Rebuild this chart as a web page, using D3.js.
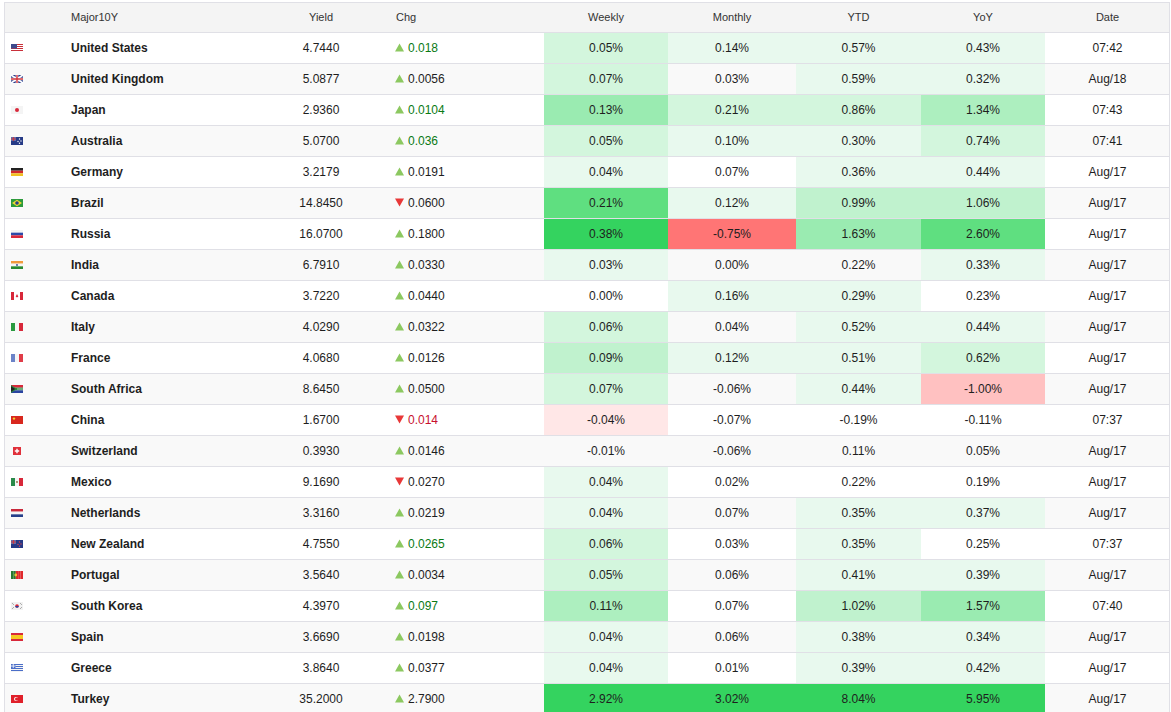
<!DOCTYPE html>
<html lang="en">
<head>
  <meta charset="utf-8">
  <title>Major 10Y bond yields</title>
  <style>
    body { margin: 0; background: #fff; }
    svg { display: block; font-family: "Liberation Sans", Arial, sans-serif; }
    .hdr { font-size: 11px; fill: #333; }
    .cell { font-size: 12px; fill: #1e1e1e; }
    .name { font-weight: bold; }
  </style>
</head>
<body>
  <script src="https://d3js.org/d3.v7.min.js"></script>
  <svg></svg>
  <script>

var countries = ['United States','United Kingdom','Japan','Australia','Germany','Brazil','Russia','India',
  'Canada','Italy','France','South Africa','China','Switzerland','Mexico','Netherlands','New Zealand',
  'Portugal','South Korea','Spain','Greece','Turkey'];
var codes = ['us','gb','jp','au','de','br','ru','in','ca','it','fr','za','cn','ch','mx','nl','nz','pt','kr','es','gr','tr'];
var yields = [4.7440,5.0877,2.9360,5.0700,3.2179,14.8450,16.0700,6.7910,3.7220,4.0290,4.0680,8.6450,
  1.6700,0.3930,9.1690,3.3160,4.7550,3.5640,4.3970,3.6690,3.8640,35.2000];
var chg = [0.018,0.0056,0.0104,0.036,0.0191,-0.0600,0.1800,0.0330,0.0440,0.0322,0.0126,0.0500,
  -0.014,0.0146,-0.0270,0.0219,0.0265,0.0034,0.097,0.0198,0.0377,2.7900];
var chgDigits = [3,4,4,3,4,4,4,4,4,4,4,4,3,4,4,4,4,4,3,4,4,4];
var weekly = [0.05,0.07,0.13,0.05,0.04,0.21,0.38,0.03,0.00,0.06,0.09,0.07,-0.04,-0.01,0.04,0.04,0.06,0.05,0.11,0.04,0.04,2.92];
var monthly = [0.14,0.03,0.21,0.10,0.07,0.12,-0.75,0.00,0.16,0.04,0.12,-0.06,-0.07,-0.06,0.02,0.07,0.03,0.06,0.07,0.06,0.01,3.02];
var ytd = [0.57,0.59,0.86,0.30,0.36,0.99,1.63,0.22,0.29,0.52,0.51,0.44,-0.19,0.11,0.22,0.35,0.35,0.41,1.02,0.38,0.39,8.04];
var yoy = [0.43,0.32,1.34,0.74,0.44,1.06,2.60,0.33,0.23,0.44,0.62,-1.00,-0.11,0.05,0.19,0.37,0.25,0.39,1.57,0.34,0.42,5.95];
var dates = ['07:42','Aug/18','07:43','07:41','Aug/17','Aug/17','Aug/17','Aug/17','Aug/17','Aug/17','Aug/17',
  'Aug/17','07:37','Aug/17','Aug/17','Aug/17','07:37','Aug/17','07:40','Aug/17','Aug/17','Aug/17'];

// heat colour steps, per column thresholds
var posThresholds = {
  weekly:  [0.025, 0.05, 0.08, 0.105, 0.12, 0.2, 0.3],
  monthly: [0.1, 0.2, 0.3, 0.4, 0.5, 0.8, 1.2],
  ytd:     [0.25, 0.75, 0.95, 1.2, 1.5, 2.5, 4],
  yoy:     [0.3, 0.6, 1.0, 1.25, 1.5, 2.5, 4]
};
var negThresholds = {
  weekly:  [0.03, 0.1, 0.2],
  monthly: [0.1, 0.4, 0.6],
  ytd:     [0.25, 0.75, 1.5],
  yoy:     [0.3, 0.8, 1.5]
};
var greens = [null,'#e8f9ee','#d3f6dd','#c0f2ce','#adefbf','#9aebb1','#5fdf80','#34d35f'];
var reds = [null,'#ffe7e7','#ffc1c1','#ff7575'];

var width = 1171, height = 712;
var left = 4, right = 1170, headTop = 2, headH = 31, rowH = 31;
var textDy = rowH / 2 + 3;

var svg = d3.select('svg').attr('width', width).attr('height', height);

// rows
var y = d3.scaleBand()
  .domain(d3.range(countries.length))
  .range([headTop + headH, headTop + headH + rowH * countries.length]);

// heat columns
var heatCols = [
  {key: 'weekly', label: 'Weekly', x0: 544, x1: 668, values: weekly},
  {key: 'monthly', label: 'Monthly', x0: 668, x1: 796, values: monthly},
  {key: 'ytd', label: 'YTD', x0: 796, x1: 921, values: ytd},
  {key: 'yoy', label: 'YoY', x0: 921, x1: 1045, values: yoy}
];
var dateCol = {x0: 1045, x1: right};
var nameX = 71, yieldX = 321, chgX = 395;

var colorFor = {};
heatCols.forEach(function(c) {
  var p = d3.scaleThreshold().domain(posThresholds[c.key]).range(greens);
  var n = d3.scaleThreshold().domain(negThresholds[c.key]).range(reds);
  colorFor[c.key] = function(v) { return v >= 0 ? p(v) : n(-v); };
});

// header
svg.append('rect')
  .attr('x', left).attr('y', headTop).attr('width', right - left).attr('height', headH)
  .attr('fill', '#f4f4f4');

var headers = [
  {t: 'Major10Y', x: nameX, a: 'start'},
  {t: 'Yield', x: yieldX, a: 'middle'},
  {t: 'Chg', x: chgX + 1, a: 'start'}
].concat(heatCols.map(function(c) { return {t: c.label, x: (c.x0 + c.x1) / 2, a: 'middle'}; }))
 .concat([{t: 'Date', x: (dateCol.x0 + dateCol.x1) / 2, a: 'middle'}]);

svg.selectAll('text.hdr').data(headers).enter().append('text')
  .attr('class', 'hdr')
  .attr('x', function(d) { return d.x; })
  .attr('y', headTop + 19)
  .attr('text-anchor', function(d) { return d.a; })
  .text(function(d) { return d.t; });

// row backgrounds (striped)
var rows = svg.selectAll('g.row').data(countries).enter().append('g')
  .attr('class', 'row')
  .attr('transform', function(d, i) { return 'translate(0,' + y(i) + ')'; });

rows.append('rect')
  .attr('x', left).attr('width', right - left).attr('height', rowH)
  .attr('fill', function(d, i) { return i % 2 ? '#f9f9f9' : '#fff'; });

// heat cells
heatCols.forEach(function(c) {
  rows.append('rect')
    .attr('x', c.x0).attr('width', c.x1 - c.x0).attr('height', rowH)
    .attr('fill', function(d, i) { return colorFor[c.key](c.values[i]) || 'none'; });
  rows.append('text')
    .attr('class', 'cell')
    .attr('x', (c.x0 + c.x1) / 2).attr('y', textDy)
    .attr('text-anchor', 'middle')
    .text(function(d, i) { return c.values[i].toFixed(2) + '%'; });
});

// flags
var flagW = 12, flagH = 8, flagX = 11;
function stripes(g, cols, vertical) {
  cols.forEach(function(col, k) {
    if (vertical) {
      g.append('rect').attr('x', k * flagW / cols.length).attr('width', flagW / cols.length).attr('height', flagH).attr('fill', col);
    } else {
      g.append('rect').attr('y', k * flagH / cols.length).attr('width', flagW).attr('height', flagH / cols.length).attr('fill', col);
    }
  });
}
function drawFlag(g, code) {
  switch (code) {
    case 'us':
      stripes(g, ['#c9303a','#fff','#c9303a','#fff','#c9303a','#fff','#c9303a','#fff']);
      g.append('rect').attr('width', 6).attr('height', 4.5).attr('fill', '#3c4a8c'); break;
    case 'gb':
      g.append('rect').attr('width', flagW).attr('height', flagH).attr('fill', '#2a3e8c');
      g.append('path').attr('d', 'M0,0L12,8M12,0L0,8').attr('stroke', '#fff').attr('stroke-width', 1.6);
      g.append('path').attr('d', 'M6,0V8M0,4H12').attr('stroke', '#fff').attr('stroke-width', 2.6);
      g.append('path').attr('d', 'M6,0V8M0,4H12').attr('stroke', '#d0343c').attr('stroke-width', 1.4); break;
    case 'jp':
      g.append('rect').attr('width', flagW).attr('height', flagH).attr('fill', '#f4f4f4');
      g.append('circle').attr('cx', 6).attr('cy', 4).attr('r', 2).attr('fill', '#d8283a'); break;
    case 'au': case 'nz':
      g.append('rect').attr('width', flagW).attr('height', flagH).attr('fill', '#263a86');
      g.append('rect').attr('width', 5).attr('height', 4).attr('fill', '#6470a8');
      g.append('path').attr('d', 'M2.5,0V4M0,2H5').attr('stroke', '#d0343c').attr('stroke-width', 0.9);
      [[8.5,2],[10,4],[8.5,6.3],[7,4.5]].forEach(function(p) {
        g.append('circle').attr('cx', p[0]).attr('cy', p[1]).attr('r', 0.7).attr('fill', code === 'au' ? '#fff' : '#e04050');
      }); break;
    case 'de': stripes(g, ['#222','#d0282c','#f0c020']); break;
    case 'br':
      g.append('rect').attr('width', flagW).attr('height', flagH).attr('fill', '#2c9a3c');
      g.append('path').attr('d', 'M6,0.8L11,4L6,7.2L1,4Z').attr('fill', '#f2d630');
      g.append('circle').attr('cx', 6).attr('cy', 4).attr('r', 1.8).attr('fill', '#23418a'); break;
    case 'ru': stripes(g, ['#f4f4f4','#2c4aa8','#d8283a']); break;
    case 'in': stripes(g, ['#f29a3a','#f6f6f6','#2a8a30']);
      g.append('circle').attr('cx', 6).attr('cy', 4).attr('r', 0.9).attr('fill', '#34408c'); break;
    case 'ca': stripes(g, ['#d8283a','#fff','#fff','#d8283a'], true);
      g.append('path').attr('d', 'M6,2L7.3,4.6L6,5.6L4.7,4.6Z').attr('fill', '#d8283a'); break;
    case 'it': stripes(g, ['#2a9a40','#f6f6f6','#d8283a'], true); break;
    case 'fr': stripes(g, ['#6b83c8','#f6f6f6','#e03c48'], true); break;
    case 'za':
      stripes(g, ['#d8283a','#2a8a40','#2a44a0']);
      g.append('path').attr('d', 'M0,0L6,4L0,8Z').attr('fill', '#2a8a40');
      g.append('path').attr('d', 'M0,1.2L4.2,4L0,6.8Z').attr('fill', '#222');
      g.append('path').attr('d', 'M6,4H12').attr('stroke', '#fff').attr('stroke-width', 0.6); break;
    case 'cn':
      g.append('rect').attr('width', flagW).attr('height', flagH).attr('fill', '#d8281e');
      g.append('circle').attr('cx', 3).attr('cy', 2.6).attr('r', 1.2).attr('fill', '#f6d230'); break;
    case 'ch':
      g.append('rect').attr('x', 2).attr('width', 8).attr('height', flagH).attr('fill', '#e0303a');
      g.append('path').attr('d', 'M6,1.8V6.2M3.8,4H8.2').attr('stroke', '#fff').attr('stroke-width', 1.4); break;
    case 'mx': stripes(g, ['#2a8a4a','#f4f4f4','#d8283a'], true);
      g.append('circle').attr('cx', 6).attr('cy', 4).attr('r', 0.9).attr('fill', '#8a6a3a'); break;
    case 'nl': stripes(g, ['#c8283a','#f6f6f6','#26408a']); break;
    case 'pt': stripes(g, ['#2a7a30','#2a7a30','#e0282c','#e0282c','#e0282c'], true);
      g.append('circle').attr('cx', 4.8).attr('cy', 4).attr('r', 1.4).attr('fill', '#f2c230'); break;
    case 'kr':
      g.append('rect').attr('width', flagW).attr('height', flagH).attr('fill', '#f2f2f2');
      g.append('circle').attr('cx', 6).attr('cy', 4).attr('r', 1.8).attr('fill', '#d8283a');
      g.append('path').attr('d', 'M4.2,4A1.8,1.8 0 0 0 7.8,4Z').attr('fill', '#2a44a0');
      g.append('path').attr('d', 'M1.5,1.5l1,1M9.5,1.5l1,1M1.5,6.5l1-1M9.5,6.5l1-1').attr('stroke', '#444').attr('stroke-width', 0.8); break;
    case 'es': stripes(g, ['#d8283a','#f6c820','#f6c820','#d8283a']); break;
    case 'gr': stripes(g, ['#4a6ec8','#f4f4f4','#4a6ec8','#f4f4f4','#4a6ec8','#f4f4f4','#4a6ec8','#f4f4f4']);
      g.append('rect').attr('width', 4.5).attr('height', 4).attr('fill', '#4a6ec8');
      g.append('path').attr('d', 'M2.25,0V4M0,2H4.5').attr('stroke', '#fff').attr('stroke-width', 0.8); break;
    case 'tr':
      g.append('rect').attr('width', flagW).attr('height', flagH).attr('fill', '#e0202a');
      g.append('circle').attr('cx', 5).attr('cy', 4).attr('r', 2).attr('fill', '#fff');
      g.append('circle').attr('cx', 5.6).attr('cy', 4).attr('r', 1.6).attr('fill', '#e0202a'); break;
  }
}
rows.append('g')
  .attr('transform', 'translate(' + flagX + ',' + 11 + ')')
  .each(function(d, i) { drawFlag(d3.select(this), codes[i]); });

// name and yield
rows.append('text')
  .attr('class', 'cell name')
  .attr('x', nameX).attr('y', textDy)
  .text(function(d) { return d; });

rows.append('text')
  .attr('class', 'cell')
  .attr('x', yieldX).attr('y', textDy)
  .attr('text-anchor', 'middle')
  .text(function(d, i) { return yields[i].toFixed(4); });

// change with arrow; live rows get coloured text
rows.append('path')
  .attr('transform', 'translate(' + (chgX + 4.5) + ',' + (textDy - 4) + ')')
  .attr('d', function(d, i) { return chg[i] >= 0 ? 'M-4.5,4L0,-4L4.5,4Z' : 'M-4.5,-4L0,4L4.5,-4Z'; })
  .attr('fill', function(d, i) { return chg[i] >= 0 ? '#8cc860' : '#e83838'; });

rows.append('text')
  .attr('class', 'cell')
  .attr('x', chgX + 13).attr('y', textDy)
  .style('fill', function(d, i) {
    if (dates[i].indexOf(':') < 0) return '#1e1e1e';
    return chg[i] >= 0 ? '#0a7a14' : '#c8102e';
  })
  .text(function(d, i) { return Math.abs(chg[i]).toFixed(chgDigits[i]); });

// date
rows.append('text')
  .attr('class', 'cell')
  .attr('x', (dateCol.x0 + dateCol.x1) / 2).attr('y', textDy)
  .attr('text-anchor', 'middle')
  .text(function(d, i) { return dates[i]; });

// grid lines
svg.selectAll('line.rowline').data(d3.range(countries.length + 1)).enter().append('line')
  .attr('x1', left).attr('x2', right)
  .attr('y1', function(i) { return y(0) + i * rowH - 0.5; })
  .attr('y2', function(i) { return y(0) + i * rowH - 0.5; })
  .attr('stroke', '#e0e0e6');

svg.append('rect')
  .attr('x', left + 0.5).attr('y', headTop + 0.5)
  .attr('width', right - left - 1).attr('height', height)
  .attr('fill', 'none').attr('stroke', '#e0e0e6');

  </script>
</body>
</html>
